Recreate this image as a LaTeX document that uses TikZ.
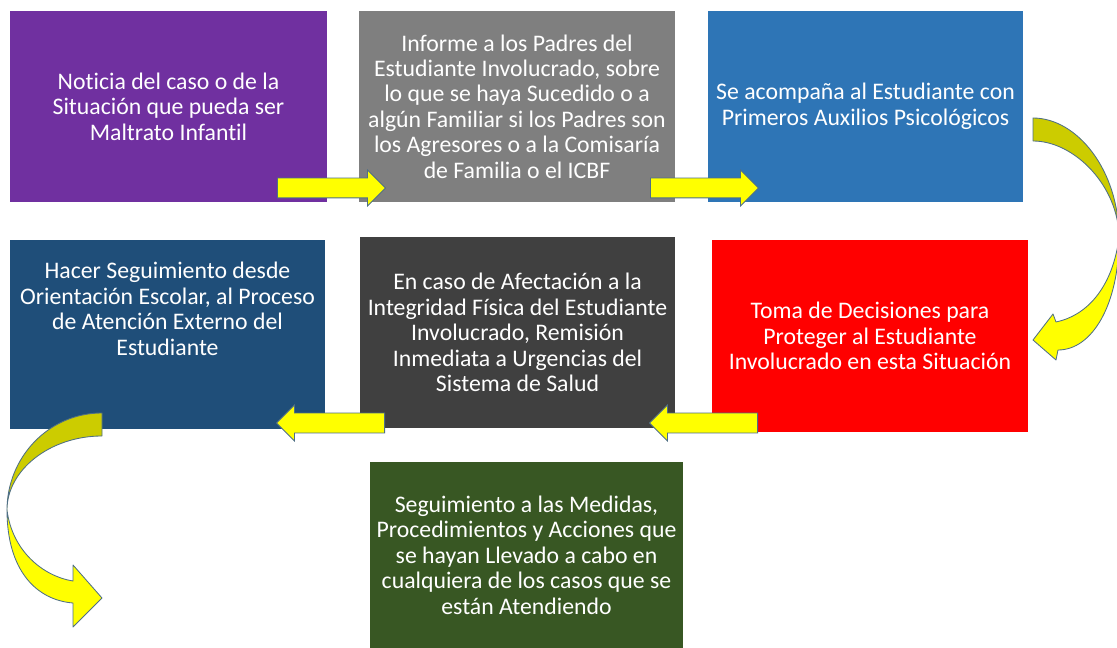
\documentclass[tikz,border=0pt]{standalone}
\usepackage{fontspec}
\setmainfont{Carlito}[Ligatures=NoCommon]
\usetikzlibrary{shapes.arrows}

\definecolor{casepurple}{HTML}{7030A0}
\definecolor{casegray}{HTML}{7F7F7F}
\definecolor{caseblue}{HTML}{2E75B6}
\definecolor{casenavy}{HTML}{1F4E79}
\definecolor{casedark}{HTML}{404040}
\definecolor{casered}{HTML}{FF0000}
\definecolor{casegreen}{HTML}{385723}
\definecolor{arrowfill}{HTML}{FFFF00}
\definecolor{arrowback}{HTML}{CCCC00}
\definecolor{arrowline}{HTML}{4F6F86}

\newcommand{\px}{0.025cm}

\begin{document}
\begin{tikzpicture}[x=0.025cm, y=-0.025cm,
    box/.style={rectangle, fill=#1, text=white, align=center, inner sep=0pt,
        font=\fontsize{16.9}{18.1}\selectfont},
    flow/.style={single arrow, fill=arrowfill, draw=arrowline, line width=0.6pt,
        inner xsep=0pt, inner ysep=0.2375cm, minimum height=2.7cm, minimum width=0.875cm,
        single arrow head extend=0.2cm, anchor=tail},
    back/.style={fill=arrowback, draw=arrowline, line width=0.6pt, line join=round},
    front/.style={fill=arrowfill, draw=arrowline, line width=0.6pt, line join=round}]
    \useasboundingbox (0,0) rectangle (1117,648);
    \clip (0,0) rectangle (1117,648);

    % first row
    \node[box=casepurple, minimum width=317*\px, minimum height=191*\px] (notice) at (168.5,106.5)
        {Noticia del caso o de la\\Situación que pueda ser\\Maltrato Infantil};
    \node[box=casegray, minimum width=316*\px, minimum height=191*\px] (inform) at (517,106.5)
        {Informe a los Padres del\\Estudiante Involucrado, sobre\\lo que se haya Sucedido o a\\algún Familiar si los Padres son\\los Agresores o a la Comisaría\\de Familia o el ICBF};
    \node[box=caseblue, minimum width=315*\px, minimum height=191*\px] (support) at (865.5,106.5)
        {Se acompaña al Estudiante con\\Primeros Auxilios Psicológicos};

    % second row
    \node[box=casenavy, minimum width=315*\px, minimum height=189*\px] (follow) at (167.5,334.5) {};
    \node[box=casenavy] (followtxt) at (167.5,309)
        {Hacer Seguimiento desde\\Orientación Escolar, al Proceso\\de Atención Externo del\\Estudiante};
    \node[box=casedark, minimum width=315*\px, minimum height=191*\px] (health) at (517.5,332.5)
        {En caso de Afectación a la\\Integridad Física del Estudiante\\Involucrado, Remisión\\Inmediata a Urgencias del\\Sistema de Salud};
    \node[box=casered, minimum width=316*\px, minimum height=192*\px] (decide) at (870,336)
        {Toma de Decisiones para\\Proteger al Estudiante\\Involucrado en esta Situación};

    % last box
    \node[box=casegreen, minimum width=313*\px, minimum height=186*\px] (track) at (526.5,555)
        {Seguimiento a las Medidas,\\Procedimientos y Acciones que\\se hayan Llevado a cabo en\\cualquiera de los casos que se\\están Atendiendo};

    % straight arrows
    \node[flow] (a1) at (277,188) {};
    \node[flow] (a2) at (650,188) {};
    \node[flow, shape border rotate=180] (a3) at (758,423) {};
    \node[flow, shape border rotate=180] (a4) at (385,423) {};

    % curved arrow on the right
    \filldraw[back] (1033,118) .. controls (1077,118) and (1119,170) .. (1119,238)
        .. controls (1119,187) and (1075,141) .. (1033,141) -- cycle;
    \filldraw[front] (1119,238) .. controls (1119,305) and (1092,350) .. (1058,350)
        -- (1056,360) -- (1033,340) -- (1053,314) -- (1056,322)
        .. controls (1085,316) and (1112,290) .. (1119,238) -- cycle;

    % curved arrow on the left
    \filldraw[back] (102,413) .. controls (48,413) and (7,458) .. (7,510)
        .. controls (7,470) and (50,436) .. (102,436) -- cycle;
    \filldraw[front] (7,510) .. controls (7,570) and (36,600) .. (73,603)
        -- (73,627) -- (102,598) -- (73,565) -- (73,581)
        .. controls (42,576) and (12,550) .. (7,510) -- cycle;
\end{tikzpicture}
\end{document}
